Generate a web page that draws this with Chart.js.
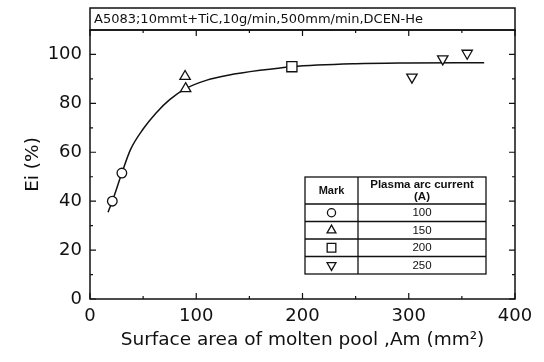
<!DOCTYPE html>
<html>
<head>
<meta charset="utf-8">
<script src="https://cdn.jsdelivr.net/npm/chart.js@4/dist/chart.umd.min.js"></script>
<style>
  html, body { margin: 0; padding: 0; background: #fff; }
  #wrap { width: 544px; height: 362px; }
</style>
</head>
<body>
<div id="wrap"><canvas id="myChart" width="544" height="362"></canvas></div>
<script>
// --- data ---
const titleText = 'A5083;10mmt+TiC,10g/min,500mm/min,DCEN-He';

const area100 = [21, 30];
const ei100 = [40, 51.5];
const area150 = [89.5, 90];
const ei150 = [91, 86];
const area200 = [190];
const ei200 = [95];
const area250 = [303, 332, 355];
const ei250 = [90.7, 98.2, 100.5];

// hand-drawn trend curve
const fitArea = [17, 21, 30, 38, 50, 62, 75, 90, 110, 130, 160, 190, 250, 300, 371];
const fitEi = [35.5, 40, 51.5, 61, 69.5, 76, 81.5, 86, 89.5, 91.5, 93.5, 95, 96.2, 96.5, 96.6];

const xTicks = [0, 100, 200, 300, 400];
const xMinor = [50, 150, 250, 350];
const yTicks = [0, 20, 40, 60, 80, 100];
const yMinor = [10, 30, 50, 70, 90];

const currents = ['100', '150', '200', '250'];
const markStyles = ['circle', 'triangle', 'rect', 'triangle'];
const markRotation = [0, 0, 0, 180];
const markRadius = [4.8, 6, 7.2, 6];

function pts(xs, ys) {
  return xs.map((v, i) => ({ x: v, y: ys[i] }));
}

const FONT = "'Liberation Sans', Arial, sans-serif";
const WIDE = "'DejaVu Sans', sans-serif";

// frame, inward ticks, title box and the mark table
const framePlugin = {
  id: 'frame',
  afterDraw(chart) {
    const { ctx, chartArea: a, scales: { x, y } } = chart;
    ctx.save();
    ctx.strokeStyle = '#111';
    ctx.lineWidth = 1.5;
    ctx.strokeRect(a.left, a.top, a.right - a.left, a.bottom - a.top);
    ctx.strokeRect(a.left, 8, a.right - a.left, a.top - 8);

    ctx.lineWidth = 1.2;
    ctx.beginPath();
    const tickX = (v, len) => {
      const px = x.getPixelForValue(v);
      ctx.moveTo(px, a.bottom); ctx.lineTo(px, a.bottom - len);
      ctx.moveTo(px, a.top); ctx.lineTo(px, a.top + len);
    };
    const tickY = (v, len) => {
      const py = y.getPixelForValue(v);
      ctx.moveTo(a.left, py); ctx.lineTo(a.left + len, py);
      ctx.moveTo(a.right, py); ctx.lineTo(a.right - len, py);
    };
    xTicks.forEach(v => tickX(v, 6));
    xMinor.forEach(v => tickX(v, 3));
    yTicks.forEach(v => tickY(v, 6));
    yMinor.forEach(v => tickY(v, 3));
    ctx.stroke();

    // title inside the box above the plot
    ctx.fillStyle = '#111';
    ctx.font = '13px ' + WIDE;
    ctx.textBaseline = 'middle';
    ctx.textAlign = 'left';
    ctx.fillText(titleText, a.left + 4, 19.5);

    // mark table
    const L = 305, R = 486, C = 358, T = 177, H = 204, rowH = 17.5;
    const B = H + rowH * currents.length;
    ctx.fillStyle = '#fff';
    ctx.fillRect(L, T, R - L, B - T);
    ctx.strokeStyle = '#111';
    ctx.lineWidth = 1.3;
    ctx.strokeRect(L, T, R - L, B - T);
    ctx.beginPath();
    ctx.moveTo(C, T); ctx.lineTo(C, B);
    for (let i = 0; i < currents.length; i++) {
      const ly = H + rowH * i;
      ctx.moveTo(L, ly); ctx.lineTo(R, ly);
    }
    ctx.stroke();

    ctx.fillStyle = '#111';
    ctx.textAlign = 'center';
    ctx.font = 'bold 11px ' + FONT;
    ctx.fillText('Mark', (L + C) / 2, (T + H) / 2);
    ctx.font = 'bold 11.5px ' + FONT;
    ctx.fillText('Plasma arc current', (C + R) / 2, T + 8);
    ctx.fillText('(A)', (C + R) / 2, T + 20);
    ctx.font = '11.5px ' + FONT;
    currents.forEach((c, i) => {
      const cy = H + rowH * i + rowH / 2;
      ctx.fillText(c, (C + R) / 2, cy + 0.5);
      ctx.strokeStyle = '#111';
      ctx.fillStyle = '#fff';
      ctx.lineWidth = 1.3;
      Chart.helpers.drawPoint(ctx, {
        pointStyle: markStyles[i],
        rotation: markRotation[i],
        radius: markRadius[i] * 0.85,
        borderWidth: 1.3
      }, (L + C) / 2, cy);
      ctx.fillStyle = '#111';
    });
    ctx.restore();
  }
};

function markSet(label, data, i) {
  return {
    label: label,
    data: data,
    showLine: false,
    pointStyle: markStyles[i],
    rotation: markRotation[i],
    pointRadius: markRadius[i],
    pointBackgroundColor: '#fff',
    pointBorderColor: '#111',
    pointBorderWidth: 1.3,
    order: 0
  };
}

const ctx = document.getElementById('myChart').getContext('2d');
const myChart = new Chart(ctx, {
  type: 'scatter',
  data: {
    datasets: [
      {
        label: 'fit',
        data: pts(fitArea, fitEi),
        showLine: true,
        borderColor: '#111',
        borderWidth: 1.5,
        pointRadius: 0,
        cubicInterpolationMode: 'monotone',
        order: 5
      },
      markSet(currents[0], pts(area100, ei100), 0),
      markSet(currents[1], pts(area150, ei150), 1),
      markSet(currents[2], pts(area200, ei200), 2),
      markSet(currents[3], pts(area250, ei250), 3)
    ]
  },
  options: {
    responsive: false,
    animation: false,
    layout: { padding: { top: 30, right: 29, left: 0, bottom: 0 } },
    plugins: {
      legend: { display: false },
      tooltip: { enabled: false }
    },
    scales: {
      x: {
        type: 'linear',
        min: 0,
        max: 400,
        afterBuildTicks: s => { s.ticks = xTicks.map(v => ({ value: v })); },
        afterFit: s => { s.height = 63; },
        grid: { display: false, drawTicks: false },
        border: { display: false },
        ticks: { color: '#111', padding: 7, font: { family: WIDE, size: 18 } },
        title: {
          display: true,
          text: 'Surface area of molten pool ,Am (mm²)',
          color: '#111',
          font: { family: WIDE, size: 18.5 },
          padding: { bottom: 11, top: 0 }
        }
      },
      y: {
        type: 'linear',
        min: 0,
        max: 110,
        afterBuildTicks: s => { s.ticks = yTicks.map(v => ({ value: v })); },
        afterFit: s => { s.width = 90; },
        grid: { display: false, drawTicks: false },
        border: { display: false },
        ticks: { color: '#111', padding: 8, font: { family: WIDE, size: 18 } },
        title: {
          display: true,
          text: 'Ei (%)',
          color: '#111',
          font: { family: WIDE, size: 18.5 },
          padding: { top: 22, bottom: 0 }
        }
      }
    }
  },
  plugins: [framePlugin]
});
</script>
</body>
</html>
